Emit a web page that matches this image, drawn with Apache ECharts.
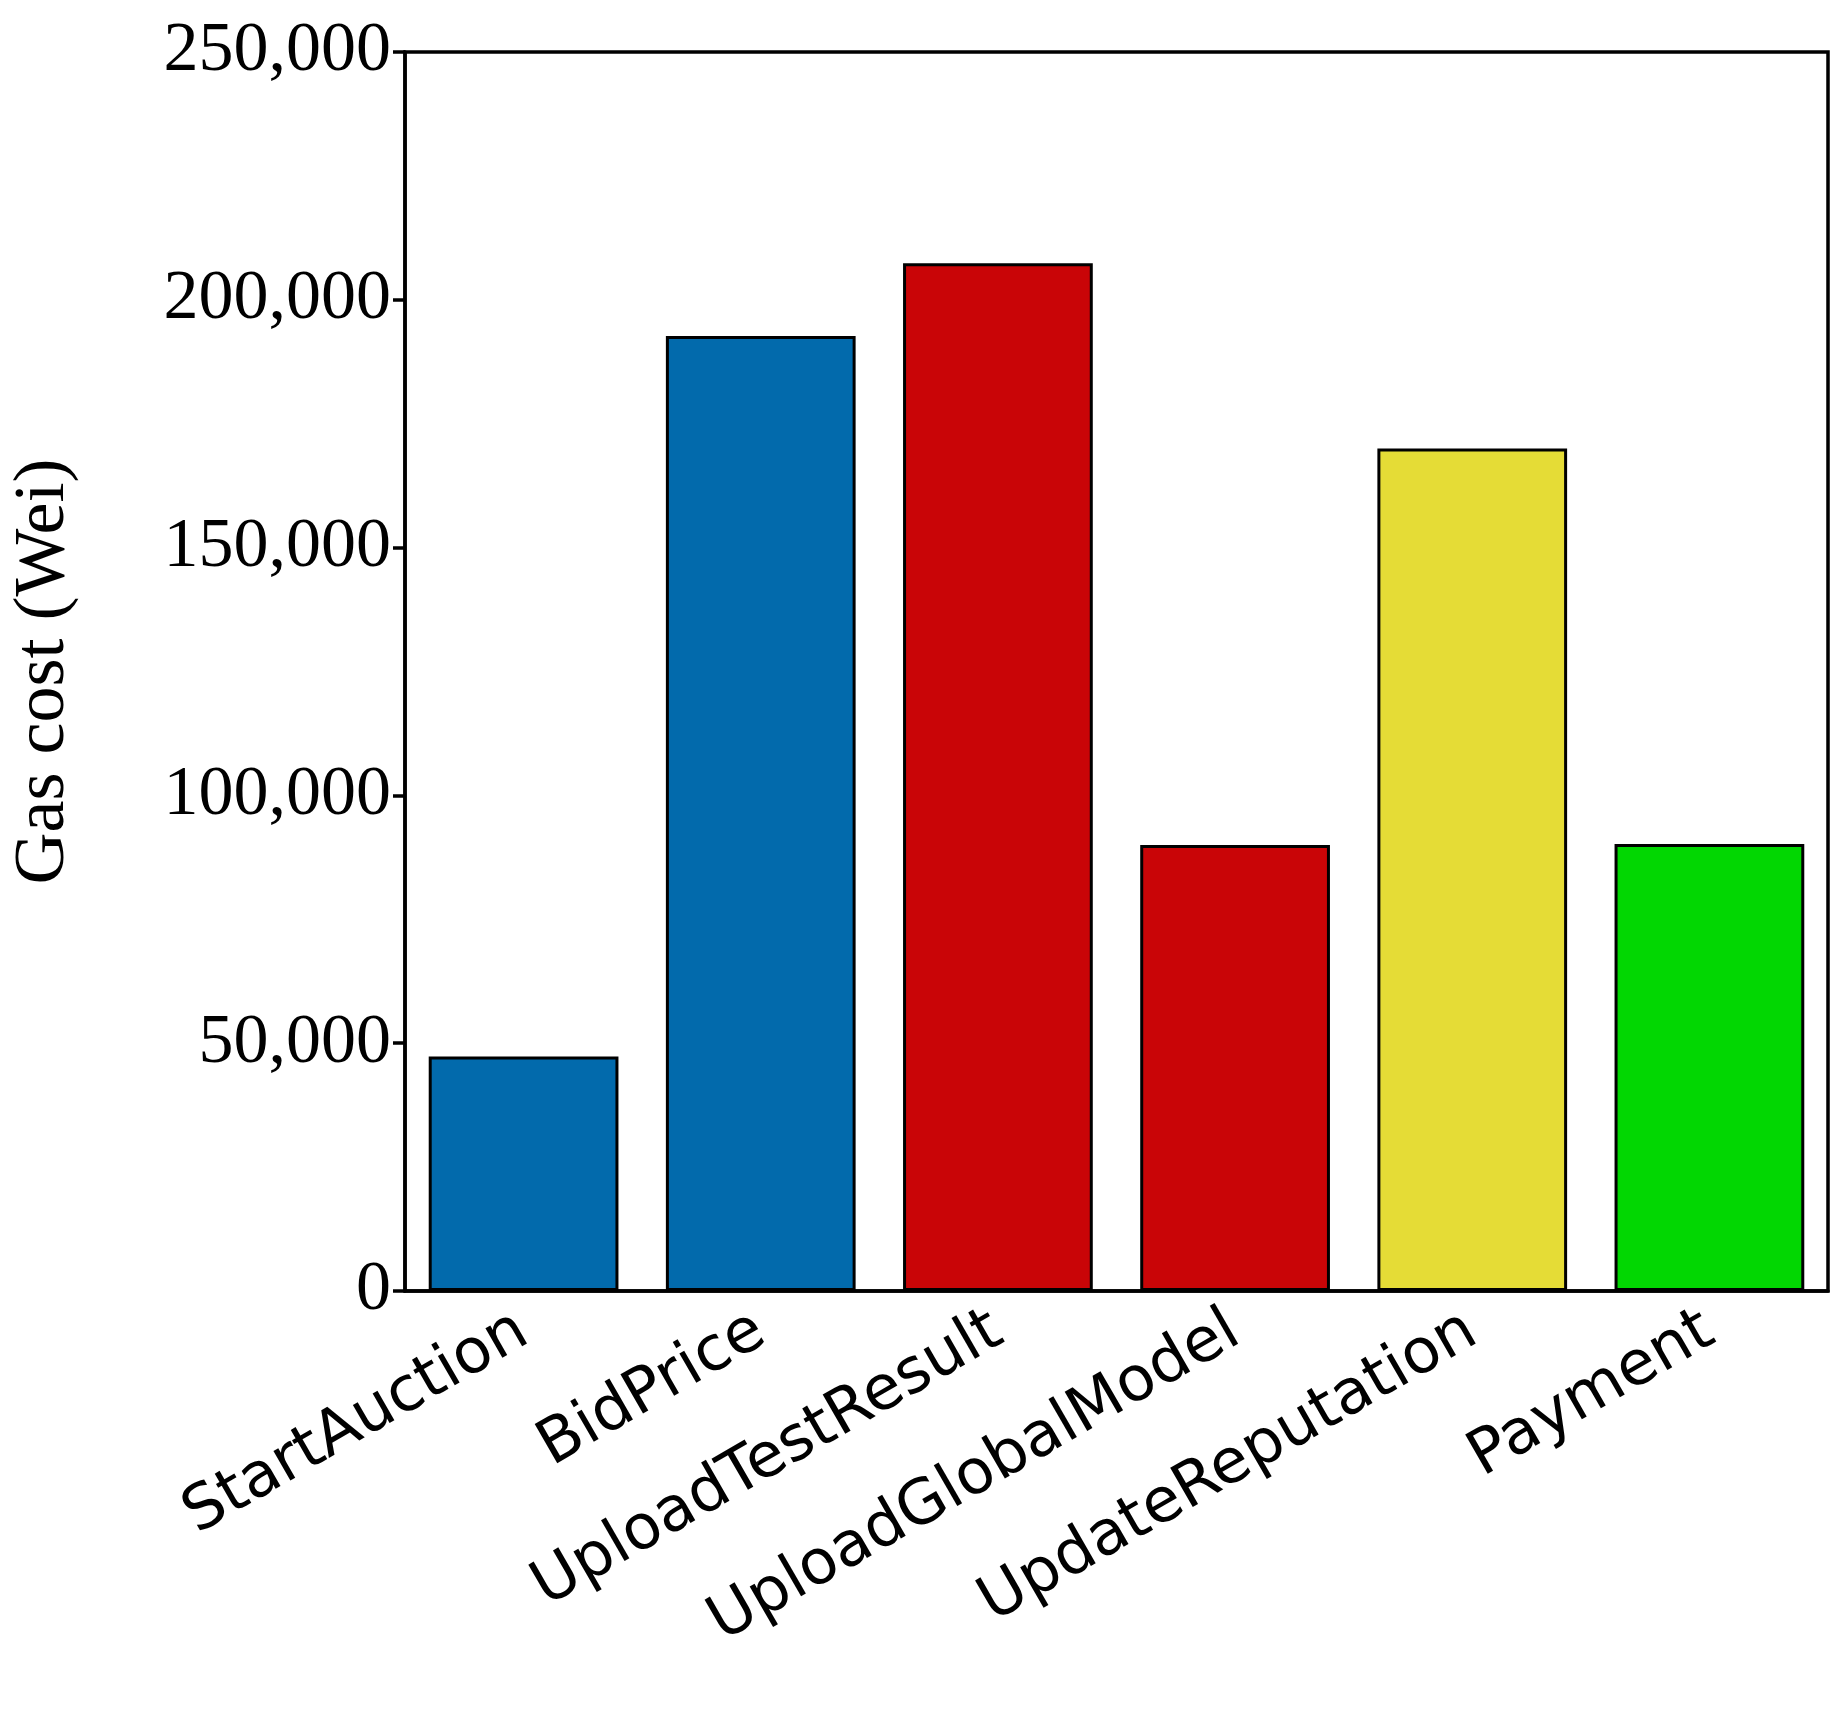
<!DOCTYPE html>
<html><head><meta charset="utf-8">
<script src="https://cdn.jsdelivr.net/npm/echarts@6/dist/echarts.min.js"></script>
<style>html,body{margin:0;padding:0;background:#fff}#c{width:1846px;height:1725px}</style>
</head><body><div id="c"></div>
<script>
const categories = ['StartAuction','BidPrice','UploadTestResult','UploadGlobalModel','UpdateReputation','Payment'];
const values = [47300, 192700, 207400, 90000, 170000, 90200];
const colors = ['#026aac','#026aac','#c90507','#c90507','#e5dc36','#02d702'];
const chart = echarts.init(document.getElementById('c'));
chart.setOption({
  animation:false,
  grid:{left:400,right:18,top:52,bottom:434,show:true,borderColor:'#000',borderWidth:3.5,backgroundColor:'transparent'},
  xAxis:{type:'category',data:categories,
    axisLine:{lineStyle:{color:'#000',width:3.5}},
    axisTick:{alignWithLabel:true,length:12,lineStyle:{color:'#000',width:3.5}},
    axisLabel:{rotate:30,color:'#000',fontFamily:'DejaVu Sans',fontSize:62,margin:36,interval:0}},
  yAxis:{type:'value',min:0,max:250000,interval:50000,
    name:'Gas cost (Wei)',nameLocation:'middle',nameGap:325,
    nameTextStyle:{fontFamily:'Liberation Serif',fontSize:72,color:'#000'},
    splitLine:{show:false},
    axisLine:{show:true,lineStyle:{color:'#000',width:3.5}},
    axisTick:{show:true,length:12,lineStyle:{color:'#000',width:3.5}},
    axisLabel:{color:'#000',fontFamily:'Liberation Serif',fontSize:70,margin:14,
      formatter:v=>v.toLocaleString('en-US')}},
  series:[{type:'bar',barWidth:'80%',
    data:values.map((v,i)=>({value:v,itemStyle:{color:colors[i]}})),
    itemStyle:{borderColor:'#000',borderWidth:3}}]
});
</script></body></html>
